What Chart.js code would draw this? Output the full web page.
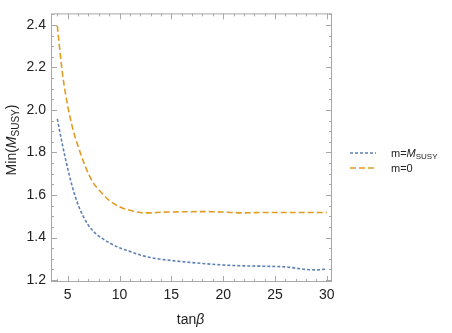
<!DOCTYPE html>
<html>
<head>
<meta charset="utf-8">
<script src="https://cdn.jsdelivr.net/npm/chart.js@4"></script>
<style>
  html, body { margin: 0; padding: 0; background: #fff; }
  #wrap { width: 452px; height: 333px; }
</style>
</head>
<body>
<div id="wrap"><canvas id="chart" width="452" height="333"></canvas></div>
<script>
// values
const tanBeta = [4, 4.5, 5, 5.5, 6, 6.5, 7, 7.5, 8, 9, 10, 11, 12, 13, 14, 16, 18, 20, 22, 24, 26, 28, 29, 30];
const minMsusyHeavy = [1.958, 1.835, 1.725, 1.63, 1.555, 1.50, 1.458, 1.428, 1.407, 1.376, 1.352, 1.335, 1.318, 1.306, 1.298, 1.287, 1.278, 1.271, 1.267, 1.265, 1.262, 1.250, 1.248, 1.252];
const minMsusyZero = [2.395, 2.17, 2.02, 1.91, 1.83, 1.76, 1.70, 1.655, 1.625, 1.575, 1.545, 1.528, 1.518, 1.516, 1.519, 1.521, 1.522, 1.520, 1.516, 1.518, 1.518, 1.518, 1.518, 1.518];
const xTicks = [5, 10, 15, 20, 25, 30];
const yTicks = [1.2, 1.4, 1.6, 1.8, 2.0, 2.2, 2.4];

const BLUE = '#5e81b5';
const ORANGE = '#e19c24';
const FONT = '"Liberation Sans", Arial, sans-serif';

// frame with inward ticks, titles and legend, Mathematica style
const decor = {
  id: 'decor',
  afterDraw(chart) {
    const { ctx, chartArea: a, scales: { x, y } } = chart;
    ctx.save();
    ctx.strokeStyle = '#a8a8a8';
    ctx.lineWidth = 1;
    ctx.strokeRect(a.left + 0.5, a.top + 0.5, a.right - a.left - 1, a.bottom - a.top - 1);

    ctx.beginPath();
    for (let v = 4; v <= 30; v++) {
      const px = Math.round(x.getPixelForValue(v)) + 0.5;
      const len = v % 5 === 0 ? 6 : 3;
      ctx.moveTo(px, a.bottom); ctx.lineTo(px, a.bottom - len);
      ctx.moveTo(px, a.top); ctx.lineTo(px, a.top + len);
    }
    for (let i = 0; i <= 25; i++) {
      const v = 1.2 + i * 0.05;
      const py = Math.round(y.getPixelForValue(v)) + 0.5;
      const len = i % 4 === 0 ? 6 : 3;
      ctx.moveTo(a.left, py); ctx.lineTo(a.left + len, py);
      ctx.moveTo(a.right, py); ctx.lineTo(a.right - len, py);
    }
    ctx.stroke();

    ctx.fillStyle = '#222';
    ctx.textBaseline = 'alphabetic';

    // y title: Min(M_SUSY)
    ctx.save();
    ctx.translate(16, 140);
    ctx.rotate(-Math.PI / 2);
    const parts = [
      { t: 'Min(', f: '14px ' + FONT, dy: 0 },
      { t: 'M', f: 'italic 14px ' + FONT, dy: 0 },
      { t: 'SUSY', f: '10px ' + FONT, dy: 3 },
      { t: ')', f: '14px ' + FONT, dy: 0 }
    ];
    let w = 0;
    parts.forEach(p => { ctx.font = p.f; w += ctx.measureText(p.t).width; });
    let cx = -w / 2;
    parts.forEach(p => {
      ctx.font = p.f;
      ctx.fillText(p.t, cx, p.dy);
      cx += ctx.measureText(p.t).width;
    });
    ctx.restore();

    // x title: tanβ
    ctx.font = '14px ' + FONT;
    const tw = ctx.measureText('tan').width;
    ctx.font = 'italic 14px ' + FONT;
    const bw = ctx.measureText('β').width;
    let sx = (a.left + a.right) / 2 - (tw + bw) / 2 - 1;
    ctx.font = '14px ' + FONT;
    ctx.fillText('tan', sx, 324);
    ctx.font = 'italic 14px ' + FONT;
    ctx.fillText('β', sx + tw, 324);

    // legend
    const rows = [
      { color: BLUE, dash: [3, 2], y: 153, label: [['m=', '11px ' + FONT, 0], ['M', 'italic 11px ' + FONT, 0], ['SUSY', '8px ' + FONT, 2]] },
      { color: ORANGE, dash: [6, 3], y: 168, label: [['m=0', '11px ' + FONT, 0]] }
    ];
    rows.forEach(r => {
      ctx.save();
      ctx.strokeStyle = r.color;
      ctx.lineWidth = 1.6;
      ctx.setLineDash(r.dash);
      ctx.beginPath();
      ctx.moveTo(350, r.y); ctx.lineTo(376, r.y);
      ctx.stroke();
      ctx.restore();
      let lx = 391;
      r.label.forEach(([t, f, dy]) => {
        ctx.font = f;
        ctx.fillText(t, lx, r.y + 4 + dy);
        lx += ctx.measureText(t).width;
      });
    });
    ctx.restore();
  }
};

new Chart(document.getElementById('chart'), {
  type: 'line',
  data: {
    datasets: [
      {
        label: 'm=MSUSY',
        data: tanBeta.map((t, i) => ({ x: t, y: minMsusyHeavy[i] })),
        borderColor: BLUE,
        borderWidth: 1.6,
        borderDash: [3, 2],
        pointRadius: 0,
        cubicInterpolationMode: 'monotone'
      },
      {
        label: 'm=0',
        data: tanBeta.map((t, i) => ({ x: t, y: minMsusyZero[i] })),
        borderColor: ORANGE,
        borderWidth: 1.6,
        borderDash: [6, 3],
        pointRadius: 0,
        cubicInterpolationMode: 'monotone'
      }
    ]
  },
  options: {
    responsive: false,
    animation: false,
    devicePixelRatio: 1,
    layout: { padding: { left: 0, right: 120, top: 3, bottom: 0 } },
    plugins: { legend: { display: false }, tooltip: { enabled: false } },
    scales: {
      x: {
        type: 'linear',
        min: 3.39,
        max: 30.5,
        afterBuildTicks: s => { s.ticks = xTicks.map(v => ({ value: v })); },
        afterFit: s => { s.height = 51; },
        grid: { display: false, drawTicks: false },
        border: { display: false },
        ticks: { color: '#222', font: { family: FONT, size: 14 }, padding: 5, maxRotation: 0 }
      },
      y: {
        min: 1.191,
        max: 2.454,
        afterBuildTicks: s => { s.ticks = yTicks.map(v => ({ value: v })); },
        afterFit: s => { s.width = 51; },
        grid: { display: false, drawTicks: false },
        border: { display: false },
        ticks: { color: '#222', font: { family: FONT, size: 14 }, padding: 5, callback: v => v.toFixed(1) }
      }
    }
  },
  plugins: [decor]
});
</script>
</body>
</html>
